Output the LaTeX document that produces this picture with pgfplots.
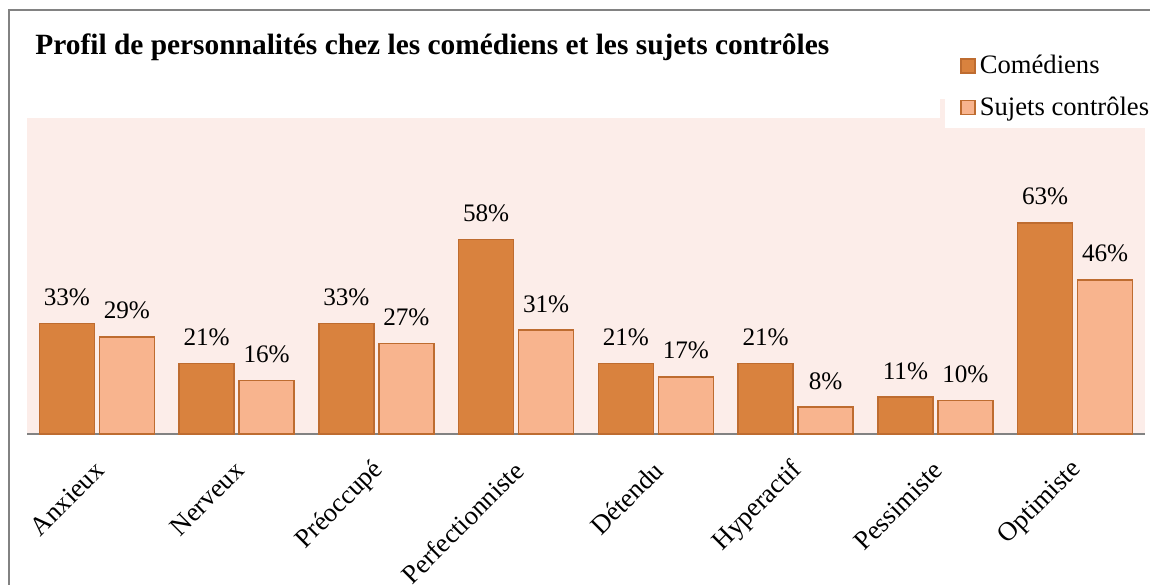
\documentclass[border=0pt]{standalone}
\usepackage{pgfplots}
\pgfplotsset{compat=1.18}
\usepackage{fontspec}
\setmainfont{Liberation Serif}
\definecolor{comed}{RGB}{217,130,62}
\definecolor{sujet}{RGB}{248,180,142}
\definecolor{edgeC}{RGB}{190,108,48}
\definecolor{pinkbg}{RGB}{252,237,233}
\definecolor{frame}{RGB}{130,130,130}
\begin{document}
\begin{tikzpicture}
\useasboundingbox (0,0) rectangle (575pt,292pt);
\draw[frame, line width=1pt] (4.5pt,-2pt) -- (4.5pt,287pt) -- (580pt,287pt);
\node[anchor=base west, inner sep=0pt, font=\fontsize{14.7}{17}\selectfont\bfseries] at (17.5pt,264.5pt)
  {Profil de personnalités chez les comédiens et les sujets contrôles};
\fill[pinkbg] (470pt,233pt) rectangle (473pt,242.5pt);
\begin{axis}[
  at={(13.5pt,75pt)}, anchor=south west,
  width=559pt, height=158pt, scale only axis,
  xmin=-0.5, xmax=7.5, ymin=0, ymax=94.3,
  axis background/.style={fill=pinkbg},
  axis y line=none,
  axis x line*=bottom,
  x axis line style={frame, line width=1pt, -},
  major tick length=0pt,
  ytick=\empty,
  xtick={0,...,7},
  xticklabels={Anxieux,Nerveux,Préoccupé,Perfectionniste,Détendu,Hyperactif,Pessimiste,Optimiste},
  xticklabel style={font=\fontsize{13.3}{15}\selectfont, inner sep=0pt, xshift=1.5pt, rotate=45, anchor=east},
  xticklabel shift=16pt,
  ybar=2.5pt, bar width=27.5pt,
  /pgf/number format/assume math mode=true,
  nodes near coords={\pgfmathprintnumber{\pgfplotspointmeta}\%},
  every node near coord/.append style={font=\fontsize{12.6}{15}\selectfont, text=black, inner sep=0pt, anchor=south, yshift=8.5pt},
  legend style={draw=none, fill=white, at={(0.8211,0.9684)}, anchor=south west,
    font=\fontsize{13.3}{15}\selectfont, row sep=6pt, inner xsep=7.5pt, inner ysep=2.75pt,
    /tikz/every even column/.append style={column sep=1pt}},
  legend cell align=left,
  legend image code/.code={\draw[#1, line width=0.75pt] (0pt,-3.5pt) rectangle (7pt,3.5pt);},
  clip=false,
]
\addplot[fill=comed, draw=edgeC, line width=0.75pt] coordinates {(0,33) (1,21) (2,33) (3,58) (4,21) (5,21) (6,11) (7,63)};
\addplot[fill=sujet, draw=edgeC, line width=0.75pt] coordinates {(0,29) (1,16) (2,27) (3,31) (4,17) (5,8) (6,10) (7,46)};
\legend{Comédiens, Sujets contrôles}
\end{axis}
\end{tikzpicture}
\end{document}
